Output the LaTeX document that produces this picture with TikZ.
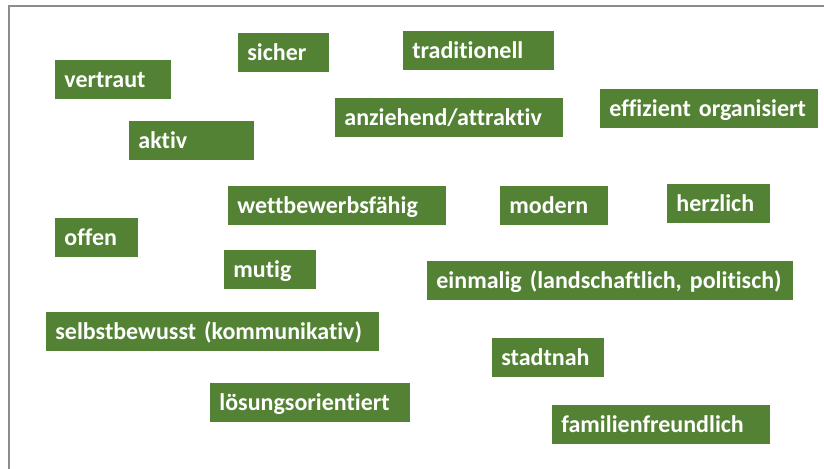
\documentclass[tikz,border=0pt]{standalone}
\usepackage{fontspec}
\setmainfont{Carlito}[Ligatures=NoCommon]
\definecolor{blattgruen}{HTML}{548235}
\definecolor{rahmengrau}{HTML}{8C8C8C}
\begin{document}
\begin{tikzpicture}[x=0.5pt, y=-0.5pt,
    wort/.style={fill=blattgruen, text=white, font=\bfseries\fontsize{12}{14}\selectfont, anchor=north west, inner xsep=4.5pt, inner ysep=2pt, text height=11.5pt, text depth=4pt, align=left}]
                \useasboundingbox (0, 0) rectangle (824, 469);
                \draw[rahmengrau, line width=1pt] (9, 469) -- (9, 6.5) -- (824, 6.5);

                \node[wort, text width=49pt] (vertraut) at (55, 60) {vertraut};
                \node[wort, text width=36.5pt] (sicher) at (238, 33) {sicher};
                \node[wort, text width=66.5pt] (traditionell) at (403, 31) {traditionell};
                \node[wort, text width=105pt] (anziehend) at (335, 98) {anziehend/attraktiv};
                \node[wort, text width=100pt] (effizient) at (600, 89) {effizient organisiert};
                \node[wort, text width=53.5pt] (aktiv) at (129, 121) {aktiv};
                \node[wort, text width=100pt] (wettbewerb) at (228, 186) {wettbewerbsfähig};
                \node[wort, text width=45pt] (modern) at (500, 186) {modern};
                \node[wort, text width=42.5pt] (herzlich) at (667, 184) {herzlich};
                \node[wort, text width=32.5pt] (offen) at (55, 218) {offen};
                \node[wort, text width=37pt] (mutig) at (224, 250) {mutig};
                \node[wort, text width=174pt] (einmalig) at (427, 261) {\mbox{einmalig (landschaftlich, politisch)}};
                \node[wort, text width=157.5pt] (selbstbewusst) at (46, 312) {selbstbewusst (kommunikativ)};
                \node[wort, text width=47pt] (stadtnah) at (492, 338) {stadtnah};
                \node[wort, text width=91pt] (loesung) at (210, 383) {lösungsorientiert};
                \node[wort, text width=100pt] (familie) at (552, 405) {familienfreundlich};
            \end{tikzpicture}
\end{document}
